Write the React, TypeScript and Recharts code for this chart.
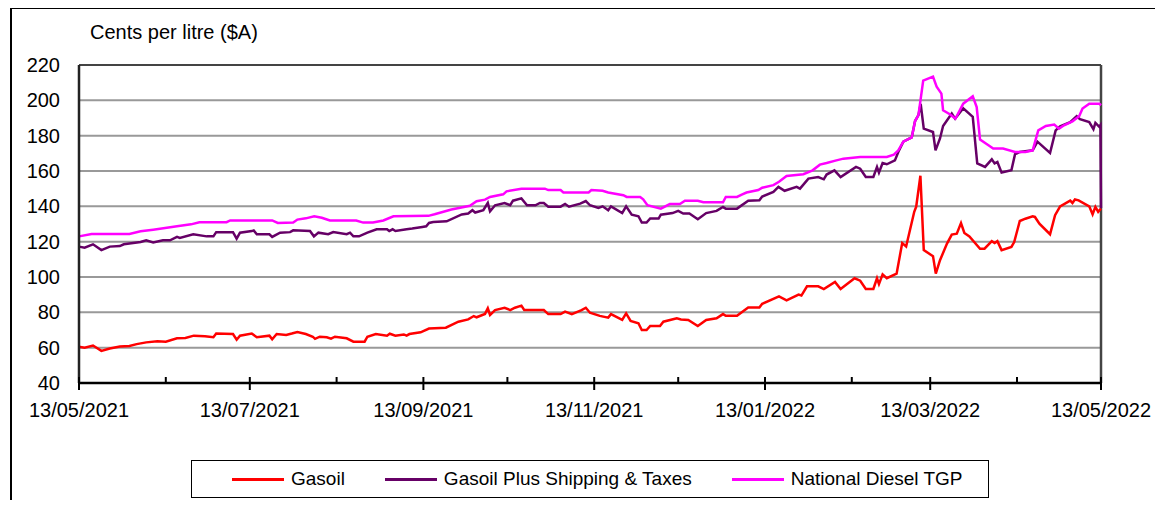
import React from "react";
import { CartesianGrid, Line, LineChart, ReferenceLine, XAxis, YAxis } from "recharts";

// day offsets are counted from 13/05/2021
const majorDays = [0, 61, 123, 184, 245, 304, 365];
const minorDays = [31, 92, 153, 214, 276, 335];
const tickLabels = ["13/05/2021", "13/07/2021", "13/09/2021", "13/11/2021", "13/01/2022", "13/03/2022", "13/05/2022"];
const yTicks = [40, 60, 80, 100, 120, 140, 160, 180, 200, 220];

const seriesNames = ["Gasoil", "Gasoil Plus Shipping & Taxes", "National Diesel TGP"];
const seriesColors = ["#ff0000", "#660066", "#ff00ff"];

const gasoil = [
  [0, 60.5], [2, 60], [5, 61.2], [8, 58.2], [11, 59.5], [14.6, 60.6], [18, 61], [20.6, 62], [24, 63], [28, 63.6],
  [31, 63.4], [35, 65.3], [38, 65.5], [41, 66.8], [45, 66.5], [48, 65.9], [49, 68], [55, 67.7], [56.3, 64.5],
  [57.5, 66.8], [61.7, 68], [63.5, 65.9], [68, 66.8], [69, 64.7], [70.6, 67.7], [74, 67.2], [76, 68], [78, 68.9],
  [81, 67.7], [83.5, 66.2], [84.3, 65], [86, 66.2], [88.5, 65.9], [90, 65.1], [91.4, 66.2], [95.6, 65.3], [98, 63.4],
  [102, 63.4], [103, 66.2], [106, 67.7], [110, 66.8], [111, 67.9], [113, 66.8], [116, 67.5], [117, 66.8], [118, 67.7],
  [122, 68.7], [125, 70.8], [131, 71.3], [135.5, 74.7], [139, 76], [141, 77.9], [142, 77.2], [145, 79.1], [146, 82.3],
  [146.8, 78.5], [148.6, 81.3], [152, 82.6], [154, 81.3], [155.7, 82.6], [158, 83.8], [159, 81.3], [166, 81.3],
  [167.6, 79], [172, 79], [173.6, 80.4], [176, 79], [179.5, 81.3], [181, 82.6], [182.5, 79.8], [186, 78], [189, 77],
  [190, 79], [194, 75.7], [195.4, 79.4], [197, 75.1], [199.8, 73.8], [201, 70], [202.7, 70], [204, 72.3], [207.5, 72.3],
  [208.7, 74.7], [213.5, 76.6], [215, 76], [217.6, 75.7], [221, 72.3], [224, 75.7], [227.7, 76.6], [230, 79], [231, 78],
  [235, 78], [239, 82.7], [243, 82.7], [244, 84.8], [250, 89], [252.7, 86.8], [257, 90], [258, 89.5], [260, 94.7],
  [264, 94.7], [266, 93.2], [270, 97.2], [272, 93.2], [277, 99.3], [279, 97.9], [281, 93.2], [283.7, 93.2], [285, 99.3],
  [285.7, 96], [287, 101.5], [288.5, 99.3], [292, 101.9], [294, 119.2], [295.4, 117.3], [298.3, 136.9], [299, 139.8],
  [300.5, 157.3], [301.7, 115.2], [305, 111.8], [306, 101.9], [307.5, 109.5], [310, 118.9], [311.7, 124], [313.5, 124.5],
  [315, 130.5], [316.2, 124.9], [318, 123], [321.8, 116], [323.4, 116], [326, 120.3], [327, 119.2], [328, 120.3],
  [329.5, 115.2], [333, 117], [334, 119.8], [336, 131.7], [338, 133], [340.6, 134.4], [341.4, 134], [343, 130.2],
  [346.8, 124.2], [348.6, 135], [350.4, 140], [354, 143.2], [354.8, 141.9], [355.7, 143.9], [357, 143.4], [360.8, 140],
  [362, 135.5], [363, 139.7], [364, 136.9], [365, 138.7],
];

const gasoilPlus = [
  [0, 117.2], [2, 116.6], [5, 118.5], [8, 115.2], [11, 117.2], [14.6, 117.5], [16, 118.5], [18, 119], [22, 119.8],
  [24, 120.8], [26.5, 119.5], [30, 120.8], [32.5, 120.8], [35, 122.7], [36, 122.1], [40.8, 124.2], [45.6, 123], [48, 123],
  [49, 125.4], [55, 125.4], [56.3, 121.7], [57.5, 125.1], [61.7, 126], [62.4, 126.4], [63.5, 124.2], [68, 124.2],
  [69, 122.7], [71.8, 125.1], [75.4, 125.4], [76.5, 126.4], [82.5, 126], [83.9, 123], [85.5, 125.1], [89, 124.2],
  [90.8, 125.4], [95.6, 124.2], [96.8, 125.1], [98, 123], [100, 123], [103, 125.1], [106.3, 127], [110, 127], [110.8, 126],
  [112, 127], [113, 126], [117, 127], [119, 127.4], [122.6, 128.3], [124, 128.7], [125, 130.6], [126.5, 131.1],
  [131.3, 131.5], [136.7, 135.4], [139, 135.9], [140.5, 137.8], [141.5, 136.5], [144.4, 137.8], [146, 141.9],
  [146.8, 137.2], [148.6, 140.6], [152, 141.9], [154, 140.6], [155, 143.2], [158, 144.5], [160, 140.6], [163, 140.6],
  [164.6, 141.9], [166, 141.9], [167.6, 139.8], [172, 139.8], [173.6, 141.3], [175, 139.8], [179, 141.5], [181, 143],
  [182.5, 140.6], [185.5, 139.1], [187, 140], [189, 137.8], [190, 140], [194, 136.2], [195.4, 140], [197.4, 135.3],
  [199.8, 134.4], [201, 130.8], [202.7, 130.8], [204, 133.1], [207, 133.1], [207.8, 135.3], [212, 136.2], [214, 137.4],
  [215.8, 135.9], [218, 135.9], [221, 132.7], [224, 136.2], [227.7, 137.4], [230, 139.6], [231, 138.7], [235, 138.7],
  [239, 143.2], [243, 143.4], [244, 145.5], [248, 148.2], [249.8, 151], [252, 148.8], [256.3, 151], [257.5, 150],
  [260.5, 155.7], [264, 156.6], [266, 155.3], [267, 158], [269.8, 160.4], [272, 156.6], [277.5, 162.3], [279, 161.3],
  [281, 156.6], [283.7, 156.6], [285, 162.3], [285.7, 159.1], [287, 164.5], [288.5, 163.8], [291.4, 166], [292.6, 170.8],
  [294.4, 176.6], [297.4, 179], [298.6, 188.3], [299.8, 191.6], [300.6, 198], [301.7, 184], [305, 182.1], [305.9, 171.7],
  [307.5, 178.4], [308.6, 185.5], [311.7, 192.5], [312.9, 189.6], [315.8, 195.5], [319.2, 190.7], [320.8, 164.3],
  [323.6, 162.3], [326, 166.6], [327, 164.3], [328, 165.1], [329.5, 159.1], [333, 160.4], [334.3, 169.5], [336, 170.8],
  [340.6, 171.7], [342.3, 176.6], [346.8, 170.2], [348.8, 183], [350.4, 185.3], [354, 187.7], [356.3, 191],
  [357.5, 189.3], [360.8, 187.7], [362.3, 183.7], [363, 187.2], [364.4, 185], [364.8, 185.9], [365, 139],
];

const nationalTgp = [
  [0, 123], [4.5, 124.3], [18, 124.3], [22, 125.9], [26.5, 126.8], [35, 128.7], [40, 129.8], [43, 131], [52.7, 131],
  [54, 132], [69, 132], [71, 130.6], [76.5, 130.8], [78, 132.5], [81, 133.2], [84, 134.4], [86.7, 133.5], [89.6, 132],
  [99, 132], [101.5, 130.8], [105, 130.8], [108.7, 132], [112.3, 134.4], [124.8, 134.6], [127, 135.5], [133, 138.2],
  [139.6, 140.3], [142, 142.9], [145, 143.8], [146.8, 145.3], [151.5, 146.8], [152.7, 148.5], [158, 150], [166.4, 150],
  [167.6, 149.2], [172, 149.2], [173, 147.8], [182, 147.8], [183, 149.2], [187, 148.8], [189, 147.8], [194.4, 146.3],
  [195.6, 145.3], [200.4, 145.3], [201.5, 144], [203, 140.6], [207.8, 138.7], [211, 141.3], [214.6, 141.3],
  [216.4, 143.2], [221, 143.2], [223, 142.3], [230, 142.3], [231, 145.3], [235, 145.3], [236.7, 146.6], [238.4, 147.8],
  [242.6, 149.2], [244, 150.5], [248, 152], [250, 153.9], [252.7, 157.2], [258.7, 158.2], [262, 160.4], [264.6, 163.6],
  [267, 164.5], [270.5, 166], [273, 167], [279, 167.9], [288.5, 167.9], [291, 169.3], [292.6, 171.7], [294.4, 176.6],
  [297.4, 179], [298.6, 188.3], [299.8, 191.6], [301.5, 211.2], [305, 213.4], [306.3, 207.7], [308, 203.8],
  [308.6, 194.4], [311, 192.1], [313, 189.6], [315.8, 198.1], [319.2, 202.3], [320.6, 196.2], [321.8, 177.8],
  [324.8, 174.6], [326.5, 172.7], [330, 172.7], [334.3, 170.8], [338, 170.8], [340.6, 171.7], [342.6, 183],
  [345.3, 185.5], [348.3, 186.3], [350, 184], [351.8, 185.9], [354.8, 188.1], [357.2, 191], [358.4, 195.4],
  [360.8, 198.1], [364.4, 198.1], [365, 197.2],
];

const toRows = (pairs: number[][]) => pairs.map(([d, v]) => ({ d, v }));
const allSeries = [gasoil, gasoilPlus, nationalTgp].map(toRows);

const font = '"Liberation Sans", Arial, sans-serif';

function XTick(props: any) {
  const { x, y, payload } = props;
  const idx = majorDays.indexOf(payload.value);
  const major = idx >= 0;
  return (
    <g>
      <line x1={x} x2={x} y1={y - 6} y2={major ? y + 7 : y} stroke="#000" strokeWidth={2} />
      {major && (
        <text x={x} y={y + 34} textAnchor="middle" fontSize={20} fontFamily={font} fill="#000">
          {tickLabels[idx]}
        </text>
      )}
    </g>
  );
}

export default function App() {
  const allTicks = [...majorDays, ...minorDays].sort((a, b) => a - b);
  return (
    <div
      style={{
        position: "relative",
        width: 1163,
        height: 508,
        margin: -8,
        overflow: "hidden",
        background: "#fff",
        fontFamily: font,
      }}
    >
      <div
        style={{
          position: "absolute",
          left: 10,
          top: 7,
          width: 1200,
          height: 600,
          border: "2px solid #000",
        }}
      />
      <div style={{ position: "absolute", left: 90, top: 21, fontSize: 20, whiteSpace: "nowrap" }}>
        Cents per litre ($A)
      </div>
      <div style={{ position: "absolute", left: 0, top: 0 }}>
        <LineChart width={1163} height={508} margin={{ top: 65, right: 62, left: 19, bottom: 80 }}>
          <CartesianGrid vertical={false} stroke="#999" strokeWidth={2} />
          <XAxis
            type="number"
            dataKey="d"
            domain={[0, 365]}
            ticks={allTicks}
            interval={0}
            tickSize={0}
            tickMargin={0}
            tickLine={false}
            height={45}
            axisLine={{ stroke: "#000", strokeWidth: 2.5 }}
            tick={<XTick />}
          />
          <YAxis
            type="number"
            domain={[40, 220]}
            ticks={yTicks}
            interval={0}
            width={60}
            tickSize={0}
            tickMargin={19}
            tickLine={false}
            axisLine={{ stroke: "#222", strokeWidth: 2.5 }}
            tick={{ fill: "#000", fontSize: 20, fontFamily: font }}
          />
          <ReferenceLine y={220} stroke="#444" strokeWidth={2} />
          <ReferenceLine x={365} stroke="#444" strokeWidth={2.5} />
          {allSeries.map((rows, i) => (
            <Line
              key={seriesNames[i]}
              data={rows}
              dataKey="v"
              name={seriesNames[i]}
              type="linear"
              stroke={seriesColors[i]}
              strokeWidth={2.5}
              dot={false}
              isAnimationActive={false}
            />
          ))}
        </LineChart>
      </div>
      {/* title sits mostly above the page edge, as in the source */}
      <div
        style={{
          position: "absolute",
          left: 120,
          top: -17,
          fontSize: 24,
          lineHeight: "24px",
          fontWeight: "bold",
          whiteSpace: "nowrap",
          color: "#000",
        }}
      >
        Diesel: Components of Terminal Gate Pricing (cents)
      </div>
      <div
        style={{
          position: "absolute",
          left: 191,
          top: 460,
          width: 798,
          height: 38,
          boxSizing: "border-box",
          border: "1.5px solid #000",
          display: "flex",
          alignItems: "center",
          paddingLeft: 40,
          gap: 40,
          fontSize: 19,
          whiteSpace: "nowrap",
        }}
      >
        {seriesNames.map((name, i) => (
          <div key={name} style={{ display: "flex", alignItems: "center" }}>
            <span style={{ display: "inline-block", width: 52, height: 3, background: seriesColors[i], marginRight: 7 }} />
            <span>{name}</span>
          </div>
        ))}
      </div>
    </div>
  );
}
